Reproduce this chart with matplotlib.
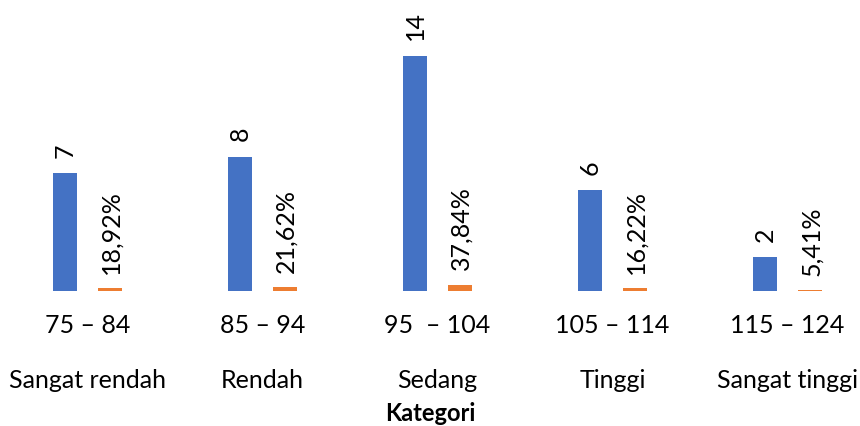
import numpy as np
import matplotlib.pyplot as plt

ranges = ['75 – 84', '85 – 94', '95  – 104', '105 – 114', '115 – 124']
kategori = ['Sangat rendah', 'Rendah', 'Sedang', 'Tinggi', 'Sangat tinggi']
frekuensi = [7, 8, 14, 6, 2]
persen = [18.92, 21.62, 37.84, 16.22, 5.41]

BLUE = '#4472C4'
ORANGE = '#ED7D31'
FONT = 'Lato'

plt.rcParams['font.family'] = [FONT, 'DejaVu Sans']

W, H = 860, 427
fig = plt.figure(figsize=(W / 100, H / 100), dpi=100)

# pixel layout: baseline at y=292, 16.79 px per unit, 175 px per group
px_unit = 16.79
base = 292
top = 23
ax = fig.add_axes([0, (H - base) / H, 1, (base - top) / H])
ax.set_ylim(0, (base - top) / px_unit)
ax.set_xlim(-0.5, -0.5 + W / 175)
ax.axis('off')

x = np.arange(len(kategori))
bw = 24 / 175
off = 22.5 / 175
fs = 18

ax.bar(x - off, frekuensi, width=bw, color=BLUE)
ax.bar(x + off, np.array(persen) / 100, width=bw, color=ORANGE)

for i in range(len(x)):
    ax.annotate(str(frekuensi[i]), (x[i] - off, frekuensi[i]),
                xytext=(0, 12), textcoords='offset points',
                rotation=90, ha='center', va='bottom', fontsize=fs)
    lbl = f'{persen[i]:.2f}%'.replace('.', ',')
    ax.annotate(lbl, (x[i] + off, persen[i] / 100),
                xytext=(1, 11), textcoords='offset points',
                rotation=90, ha='center', va='bottom', fontsize=fs)
    ax.text(x[i], -34 / px_unit, ranges[i], ha='center', va='center',
            fontsize=fs, clip_on=False)
    ax.text(x[i], -89 / px_unit, kategori[i], ha='center', va='center',
            fontsize=fs, clip_on=False)

fig.text(0.5, 1 - 414 / H, 'Kategori', ha='center', va='center',
         fontsize=17, fontweight='bold')

fig.savefig('out.png', dpi=100)
